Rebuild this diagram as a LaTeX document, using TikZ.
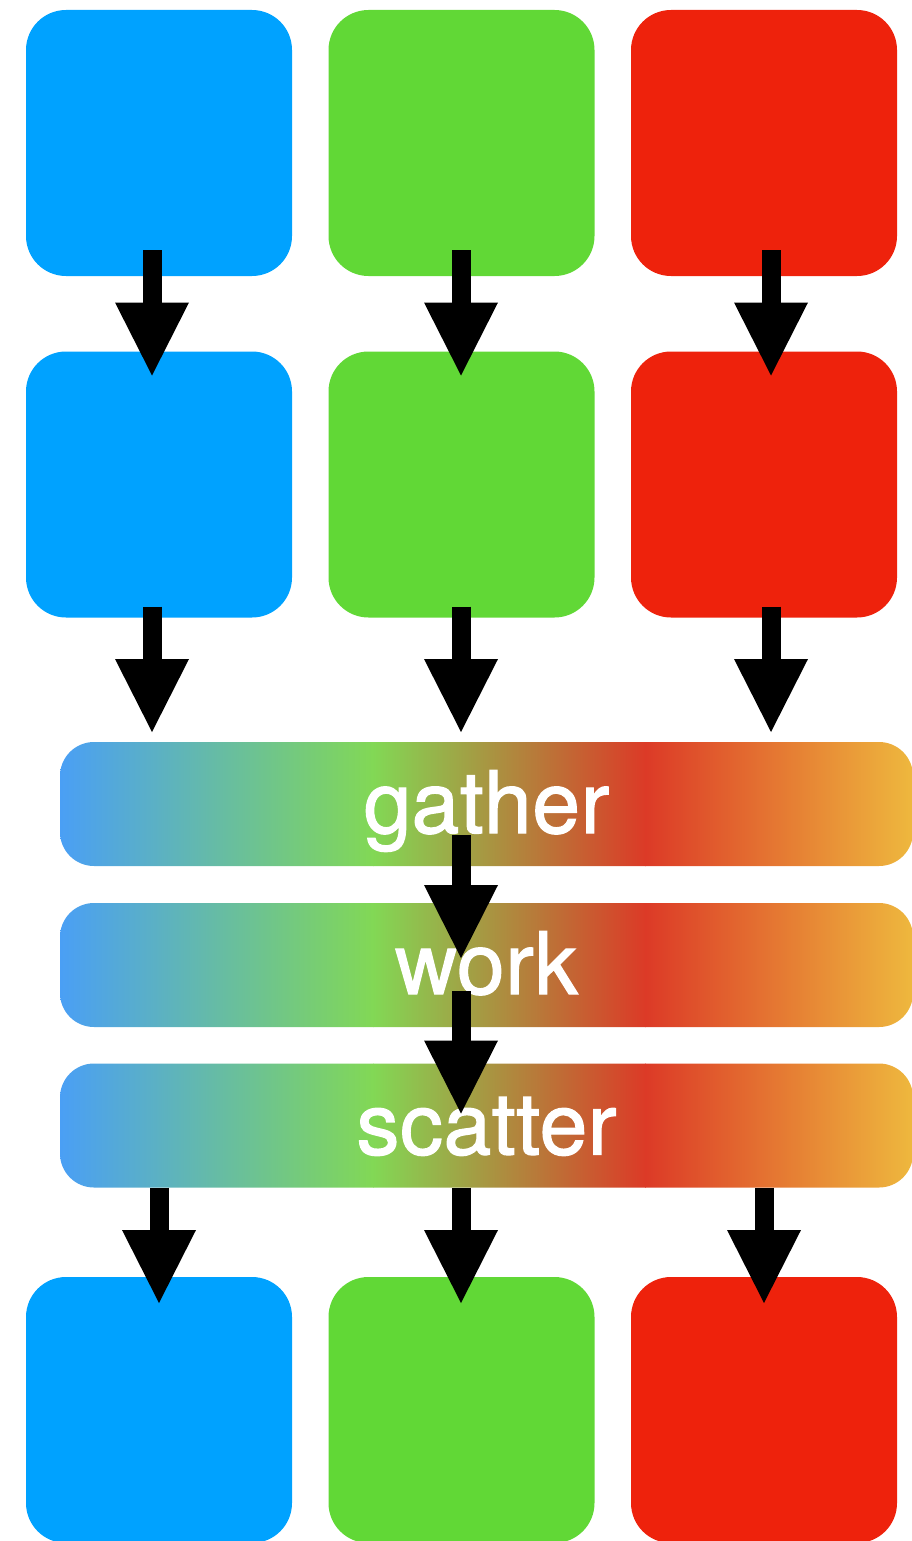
\documentclass[tikz,border=0pt]{standalone}
\usepackage{fontspec}
\setmainfont{TeX Gyre Heros}
\usetikzlibrary{arrows.meta,calc}

% tile colours
\definecolor{tileBlue}{HTML}{00A2FF}
\definecolor{tileGreen}{HTML}{61D836}
\definecolor{tileRed}{HTML}{EE220C}
% stops of the stage-bar gradient
\definecolor{gBlue}{HTML}{4A9FF5}
\definecolor{gGreen}{HTML}{82D855}
\definecolor{gRed}{HTML}{DC3A27}
\definecolor{gYellow}{HTML}{EEB83E}

\tikzset{
  tile/.style={rectangle, rounded corners=40pt, minimum width=266pt,
    minimum height=266pt, inner sep=0pt, outer sep=0pt, draw=none},
  stagebar/.style={rectangle, rounded corners=34pt, minimum width=853pt,
    minimum height=124pt, inner sep=0pt, outer sep=0pt, draw=none,
    text=white, text height=58pt, text depth=0pt,
    font=\fontsize{86}{96}\selectfont\addfontfeature{FakeBold=1.4,LetterSpace=0.6},
    path picture={
      \coordinate (pA) at (path picture bounding box.north west);
      \coordinate (pB) at (path picture bounding box.south east);
      \coordinate (m1) at ($(pA)!0.367!(pB)$);
      \coordinate (m2) at ($(pA)!0.686!(pB)$);
      \shade[sharp corners, left color=gBlue, right color=gGreen]
        (pA) rectangle ([xshift=0.6pt]m1 |- pB);
      \shade[sharp corners, left color=gGreen, right color=gRed]
        (m1 |- pA) rectangle ([xshift=0.6pt]m2 |- pB);
      \shade[sharp corners, left color=gRed, right color=gYellow]
        (m2 |- pA) rectangle (pB);
    }},
  bigarrow/.style={line width=19pt, line cap=butt,
    -{Triangle[length=73pt, width=74pt, line width=0pt]}},
}

\begin{document}
\begin{tikzpicture}[x=1pt, y=-1pt]
  \useasboundingbox (0,0) rectangle (911,1541);

  % input tiles
  \node[tile, fill=tileBlue]  (a1) at (159,143) {};
  \node[tile, fill=tileGreen] (a2) at (461.5,143) {};
  \node[tile, fill=tileRed]   (a3) at (764,143) {};

  % second row of tiles
  \node[tile, fill=tileBlue]  (b1) at (159,484.5) {};
  \node[tile, fill=tileGreen] (b2) at (461.5,484.5) {};
  \node[tile, fill=tileRed]   (b3) at (764,484.5) {};

  % row 1 -> row 2
  \draw[bigarrow] ([xshift=-7pt,yshift=26pt]a1.south) -- ([xshift=-7pt,yshift=-24pt]b1.north);
  \draw[bigarrow] ([xshift=-0.5pt,yshift=26pt]a2.south) -- ([xshift=-0.5pt,yshift=-24pt]b2.north);
  \draw[bigarrow] ([xshift=7pt,yshift=26pt]a3.south) -- ([xshift=7pt,yshift=-24pt]b3.north);

  % stage bars
  \node[stagebar] (gather)  at (486.5,804)    {gather};
  \node[stagebar] (work)    at (486.5,965)    {work};
  \node[stagebar] (scatter) at (486.5,1125.5) {scatter};

  % row 2 -> gather
  \coordinate (g1) at (b1.south |- gather.north);
  \coordinate (g2) at (b2.south |- gather.north);
  \coordinate (g3) at (b3.south |- gather.north);
  \draw[bigarrow] ([xshift=-7pt,yshift=11pt]b1.south) -- ([xshift=-7pt,yshift=10pt]g1);
  \draw[bigarrow] ([xshift=-0.5pt,yshift=11pt]b2.south) -- ([xshift=-0.5pt,yshift=10pt]g2);
  \draw[bigarrow] ([xshift=7pt,yshift=11pt]b3.south) -- ([xshift=7pt,yshift=10pt]g3);

  % gather -> work -> scatter
  \coordinate (w0) at (b2.south |- work.north);
  \coordinate (s0) at (b2.south |- scatter.north);
  \coordinate (gs) at (b2.south |- gather.south);
  \coordinate (ws) at (b2.south |- work.south);
  \draw[bigarrow] ([xshift=-0.5pt,yshift=31pt]gs) -- ([xshift=-0.5pt,yshift=-55pt]w0);
  \draw[bigarrow] ([xshift=-0.5pt,yshift=36pt]ws) -- ([xshift=-0.5pt,yshift=-50pt]s0);

  % output tiles
  \node[tile, fill=tileBlue]  (c1) at (159,1410) {};
  \node[tile, fill=tileGreen] (c2) at (461.5,1410) {};
  \node[tile, fill=tileRed]   (c3) at (764,1410) {};

  % scatter -> output tiles
  \draw[bigarrow] (c1.north |- scatter.south) -- ([yshift=-26pt]c1.north);
  \draw[bigarrow] ([xshift=-0.5pt]c2.north |- scatter.south) -- ([xshift=-0.5pt,yshift=-26pt]c2.north);
  \draw[bigarrow] (c3.north |- scatter.south) -- ([yshift=-26pt]c3.north);
\end{tikzpicture}
\end{document}
